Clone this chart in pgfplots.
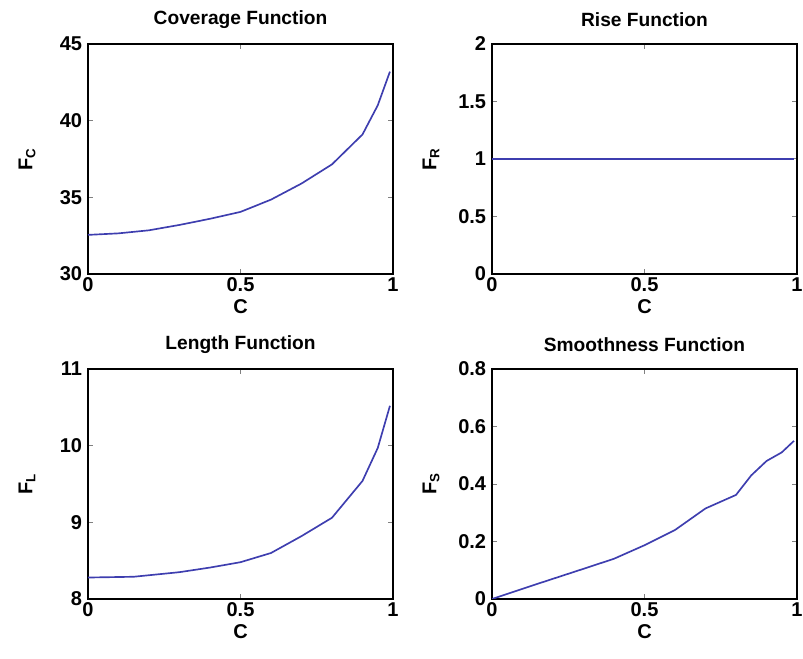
\documentclass[border=0pt]{standalone}
\usepackage{fontspec}
\setmainfont{Liberation Sans}
\usepackage{pgfplots}
\pgfplotsset{compat=1.18}
\definecolor{mline}{RGB}{62,62,175}
\pgfplotsset{
  mat/.style={
    scale only axis, width=183pt, height=138pt,
    anchor=south west, xmin=0, xmax=1, xtick={0,0.5,1},
    tick align=inside, major tick length=3pt, axis line style={line width=0.8pt},
    tick style={line width=0.6pt},
    /pgf/number format/assume math mode=true,
    every tick label/.append style={font=\bfseries\fontsize{12}{13}\selectfont},
    xticklabel style={yshift=1.5pt},
    xlabel={C},
    xlabel style={at={(axis description cs:0.5,-0.142)},anchor=center,font=\bfseries\fontsize{12}{13}\selectfont},
    ylabel style={at={(axis description cs:-0.2,0.5)},anchor=center,rotate=0,font=\bfseries\fontsize{12}{13}\selectfont},
    every axis title/.style={at={(axis description cs:0.5,1)},anchor=center,yshift=14.8pt,font=\bfseries\fontsize{11.5}{13}\selectfont},
  },
  fline/.style={mline, line width=1pt, no marks},
}
\begin{document}
\begin{tikzpicture}
% top left
\begin{axis}[mat, at={(0pt,195pt)}, ymin=30, ymax=45, ytick={30,35,40,45},
  title={Coverage Function}, ylabel={F\textsubscript{C}}]
\addplot[fline] coordinates {(0,32.55)(0.1,32.65)(0.2,32.85)(0.3,33.2)(0.4,33.6)(0.5,34.05)(0.6,34.85)(0.7,35.9)(0.8,37.15)(0.9,39.1)(0.95,41.0)(0.99,43.2)};
\end{axis}
% top right
\begin{axis}[mat, at={(242.4pt,195pt)}, ymin=0, ymax=2, ytick={0,0.5,1,1.5,2},
  title={Rise Function}, ylabel={F\textsubscript{R}}]
\addplot[fline] coordinates {(0,1)(0.99,1)};
\end{axis}
% bottom left
\begin{axis}[mat, at={(0pt,0pt)}, ymin=8, ymax=11, ytick={8,9,10,11},
  title={Length Function}, ylabel={F\textsubscript{L}}]
\addplot[fline] coordinates {(0,8.28)(0.15,8.29)(0.3,8.35)(0.4,8.41)(0.5,8.48)(0.6,8.6)(0.7,8.82)(0.8,9.06)(0.9,9.54)(0.95,9.97)(0.99,10.52)};
\end{axis}
% bottom right
\begin{axis}[mat, at={(242.4pt,0pt)}, ymin=0, ymax=0.8, ytick={0,0.2,0.4,0.6,0.8},
  yticklabels={0,0.2,0.4,0.6,0.8},
  title={Smoothness Function}, ylabel={F\textsubscript{S}}]
\addplot[fline] coordinates {(0,0)(0.15,0.053)(0.3,0.105)(0.4,0.14)(0.5,0.187)(0.6,0.24)(0.7,0.315)(0.8,0.362)(0.85,0.43)(0.9,0.48)(0.95,0.51)(0.99,0.55)};
\end{axis}
\pgfresetboundingbox
\useasboundingbox (-52.8pt,-36pt) rectangle (429pt,359.4pt);
\end{tikzpicture}
\end{document}
